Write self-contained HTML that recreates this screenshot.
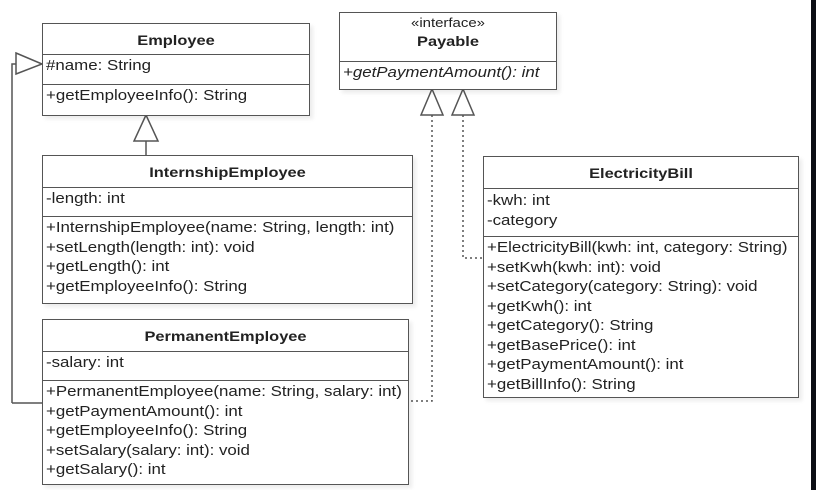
<!DOCTYPE html>
<html><head><style>
body{margin:0;width:816px;height:490px;background:#fff;position:relative;overflow:hidden;font-family:"Liberation Sans",sans-serif;color:#222}
.b{position:absolute;border:1.5px solid #555;background:#fff;box-sizing:border-box;box-shadow:3px 3px 4px rgba(0,0,0,0.08)}
.h{position:absolute;left:0;right:0;text-align:center;font-weight:bold;font-size:14px;transform:scaleX(1.17)}
.s{position:absolute;left:0;right:0;border-top:1.5px solid #555}
.t{position:absolute;left:3px;font-size:14.3px;line-height:19.5px;white-space:nowrap;transform:scaleX(1.18);transform-origin:0 0}
</style></head><body>
<div style="position:absolute;left:811px;top:0;width:5px;height:490px;background:#0c0e14"></div>
<svg width="816" height="490" style="position:absolute;left:0;top:0">
<g fill="none" stroke="#555" stroke-width="1.5">
<polyline points="12,403 12,64 16,64"/>
<polyline points="12,403 42,403"/>
<polygon points="16,53 42,64 16,74" fill="#fff"/>
<line x1="146" y1="141" x2="146" y2="156"/>
<polygon points="146,115 134,141 158,141" fill="#fff"/>
<polygon points="432,89 421,115 443,115" fill="#fff"/>
<polygon points="463,89 452,115 474,115" fill="#fff"/>
<polyline points="432,115 432,401 408,401" stroke-dasharray="2,3"/>
<polyline points="463,115 463,258 483,258" stroke-dasharray="2,3"/>
</g></svg>

<div class="b" style="left:42px;top:23px;width:268px;height:93px">
<div class="h" style="top:8px">Employee</div>
<div class="s" style="top:30px"></div>
<div class="t" style="top:33px">#name: String</div>
<div class="s" style="top:60px"></div>
<div class="t" style="top:63px">+getEmployeeInfo(): String</div>
</div>

<div class="b" style="left:339px;top:12px;width:218px;height:78px">
<div style="position:absolute;left:0;right:0;top:2px;text-align:center;font-size:13px;transform:scaleX(1.15)">«interface»</div>
<div class="h" style="top:20px">Payable</div>
<div class="s" style="top:48px"></div>
<div class="t" style="top:51px;font-style:italic">+getPaymentAmount(): int</div>
</div>

<div class="b" style="left:42px;top:155px;width:371px;height:149px">
<div class="h" style="top:8px">InternshipEmployee</div>
<div class="s" style="top:31px"></div>
<div class="t" style="top:34px">-length: int</div>
<div class="s" style="top:60px"></div>
<div class="t" style="top:63px">+InternshipEmployee(name: String, length: int)<br>+setLength(length: int): void<br>+getLength(): int<br>+getEmployeeInfo(): String</div>
</div>

<div class="b" style="left:42px;top:319px;width:367px;height:166px">
<div class="h" style="top:8px">PermanentEmployee</div>
<div class="s" style="top:31px"></div>
<div class="t" style="top:34px">-salary: int</div>
<div class="s" style="top:60px"></div>
<div class="t" style="top:63px">+PermanentEmployee(name: String, salary: int)<br>+getPaymentAmount(): int<br>+getEmployeeInfo(): String<br>+setSalary(salary: int): void<br>+getSalary(): int</div>
</div>

<div class="b" style="left:483px;top:156px;width:316px;height:242px">
<div class="h" style="top:8px">ElectricityBill</div>
<div class="s" style="top:31px"></div>
<div class="t" style="top:35px">-kwh: int<br>-category</div>
<div class="s" style="top:79px"></div>
<div class="t" style="top:82px">+ElectricityBill(kwh: int, category: String)<br>+setKwh(kwh: int): void<br>+setCategory(category: String): void<br>+getKwh(): int<br>+getCategory(): String<br>+getBasePrice(): int<br>+getPaymentAmount(): int<br>+getBillInfo(): String</div>
</div>
</body></html>
